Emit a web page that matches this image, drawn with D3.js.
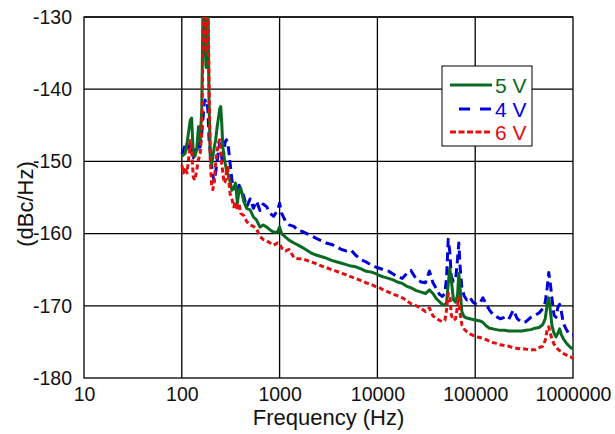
<!DOCTYPE html>
<html>
<head>
<meta charset="utf-8">
<script src="https://cdn.jsdelivr.net/npm/d3@7"></script>
<style>
  body { margin: 0; background: #fff; }
  text { font-family: "Liberation Sans", Arial, sans-serif; }
</style>
</head>
<body>
<div id="chart"></div>
<script>
// frequency grid (Hz) shared by the three curves
const freqHz = [
  100, 104, 108, 113, 118, 122, 126, 131, 136, 142, 148, 154, 160, 165, 169, 173, 177, 181, 185, 190,
  196, 202, 208, 215, 222, 230, 238, 244, 250, 256, 263, 270, 278, 286, 294, 302, 312, 325, 340, 355,
  370, 385, 400,
  430, 460, 500, 540, 580, 630, 680, 740, 800, 870,
  950, 1000, 1050, 1150, 1250, 1400, 1550, 1700, 1900, 2100,
  2400, 2700, 3000, 3400, 3800, 4300, 4800, 5400, 6000, 6800,
  7600, 8500, 9500, 10500, 11500, 13000, 14500, 16000, 18000, 20000,
  22000, 25000, 28000, 31000, 34000, 37000, 40000, 43000, 46000, 49000,
  51000, 53000, 55000, 57000, 60000, 63000, 66000, 68000, 70000, 73000,
  77000, 82000, 88000, 95000, 103000, 112000, 120000, 130000, 140000, 152000,
  165000, 180000, 200000, 220000, 245000, 270000, 300000, 330000, 370000, 410000,
  450000, 490000, 520000, 545000, 565000, 585000, 610000, 640000, 670000, 700000,
  730000, 760000, 800000, 850000, 900000, 950000, 1000000
];

// 5 V (dBc/Hz)
const db5V = [
  -149.3, -149.1, -148.9, -147.5, -145.7, -144.3, -144.0, -148.8, -149.3, -148.4, -145.2, -147.0, -142.9, -128, -126, -134, -137, -126, -128, -142,
  -149.8, -150.5, -149.3, -148, -147, -145.2, -143.8, -142.7, -142.4, -144.7, -148, -149.3, -150.3, -151.2, -151.6, -152.1, -152.8, -154, -153.7, -153,
  -155.8, -154, -153.7,
  -155.5, -156.5, -156.7, -157.7, -158.1, -159.1, -158.8, -159.1, -159.5, -159.8,
  -159.8, -159.1, -160.0, -160.5, -160.9, -161.3, -161.6, -161.9, -162.3, -162.7,
  -163.0, -163.2, -163.4, -163.7, -163.9, -164.1, -164.3, -164.5, -164.6, -164.9,
  -165.2, -165.3, -165.5, -165.8, -166.0, -166.2, -166.4, -166.7, -166.9, -167.3,
  -167.5, -167.9, -168.1, -168.3, -167.8, -168.3, -169.0, -169.4, -169.8, -169.9,
  -169.5, -167.0, -164.8, -166.5, -169.2, -169.5, -168.5, -165.5, -167.5, -170.8,
  -171.5, -171.7, -171.8, -171.9, -172.0, -172.1, -172.3, -172.8, -173.1, -173.2,
  -173.3, -173.4, -173.4, -173.5, -173.5, -173.5, -173.5, -173.4, -173.3, -173.1,
  -173.0, -172.6, -171.8, -169.8, -168.9, -170.5, -172.8, -173.8, -174.3, -173.8,
  -173.2, -174.0, -174.6, -175.1, -175.5, -175.8, -176.0
];

// 4 V (dBc/Hz)
const db4V = [
  -149.0, -148.5, -147.8, -147.6, -148.3, -147.2, -148.8, -149.5, -148.4, -148.8, -147.2, -148, -146, -144, -142, -141.5, -142, -141.8, -143, -147,
  -148.8, -150.5, -152, -152.8, -151.5, -150, -148.4, -147.5, -148.2, -149.5, -150.3, -148.5, -147.3, -147.0, -147.4, -148.5, -150.3, -152.5, -153.8, -153.6,
  -154.5, -153.3, -153.8,
  -154.8, -156.3, -155.2, -156.5, -155.5, -156.8, -155.9, -156.3, -157.2, -157.6,
  -156.8, -155.8, -157.2, -158.3, -158.8, -159.0, -159.6, -159.7, -160.0, -160.3,
  -160.7, -161.0, -161.3, -161.5, -161.8, -162.2, -162.4, -162.3, -163.0, -163.6,
  -163.9, -164.3, -164.6, -164.8, -165.0, -165.2, -165.6, -166.0, -166.2, -165.5,
  -165.1, -166.3, -166.7, -166.8, -165.2, -166.8, -167.6, -168.4, -168.7, -168.3,
  -166.0, -160.8, -162.5, -166.0, -166.6, -166.5, -163.5, -161.3, -164.5, -167.5,
  -168.6, -169.2, -168.8, -169.5, -169.8, -169.6, -168.9, -169.8, -170.6, -171.2,
  -171.5, -171.8, -171.6, -171.9, -170.6, -171.8, -172.3, -172.2, -171.6, -171.3,
  -171.0, -170.4, -169.5, -167.5, -165.4, -166.8, -169.0, -171.3, -171.6, -170.2,
  -169.8, -170.8, -172.5, -173.2, -173.8, -174.0, -174.0
];

// 6 V (dBc/Hz)
const db6V = [
  -150.5, -151.6, -150.8, -151.6, -149.4, -147.1, -148.4, -152.2, -152.6, -151.2, -149.8, -148.9, -146, -132, -126, -131, -135, -126, -127, -139,
  -150, -153.5, -153.9, -152.5, -150.3, -148.5, -147.3, -147.0, -148.3, -150.5, -151.5, -153, -152.8, -151.5, -150.8, -152.5, -154.5, -155.2, -156.3, -155.6,
  -156.8, -155.8, -157.2,
  -157.5, -158.3, -158.8, -159.0, -159.3, -160.4, -160.8, -161.0, -161.3, -161.6,
  -161.3, -161.4, -162.0, -162.4, -162.2, -163.3, -163.5, -163.5, -163.7, -163.9,
  -164.2, -164.5, -164.7, -165.0, -165.2, -165.5, -165.7, -166.0, -166.2, -166.5,
  -166.8, -167.0, -167.3, -167.5, -167.8, -168.1, -168.4, -168.6, -168.9, -169.3,
  -169.7, -170.0, -170.4, -170.8, -170.3, -171.4, -171.7, -172.0, -172.2, -172.0,
  -170.5, -168.3, -168.4, -171.3, -172.0, -171.8, -170.0, -168.8, -171.0, -172.6,
  -173.2, -173.6, -173.9, -174.1, -174.3, -174.4, -174.5, -174.7, -174.9, -175.1,
  -175.2, -175.4, -175.5, -175.6, -175.8, -175.9, -176.0, -176.0, -176.1, -176.1,
  -175.8, -175.6, -174.8, -173.3, -172.9, -173.8, -174.6, -175.3, -175.7, -176.0,
  -176.2, -176.4, -176.6, -176.8, -177.0, -177.1, -177.3
];

const xTicks = [10, 100, 1000, 10000, 100000, 1000000];
const yTicks = [-180, -170, -160, -150, -140, -130];

const width = 615, height = 434;
const plotL = 84, plotR = 573, plotT = 17, plotB = 378;

const svg = d3.select("#chart").append("svg")
  .attr("width", width)
  .attr("height", height);

const x = d3.scaleLog().domain([10, 1000000]).range([plotL, plotR]);
const y = d3.scaleLinear().domain([-180, -130]).range([plotB, plotT]);

// grid
const grid = svg.append("g").attr("stroke", "#000").attr("stroke-width", 1.3);
grid.selectAll(".vg").data(xTicks.slice(1, -1)).enter().append("line")
  .attr("x1", d => x(d)).attr("x2", d => x(d))
  .attr("y1", plotT).attr("y2", plotB);
grid.selectAll(".hg").data(yTicks.slice(1, -1)).enter().append("line")
  .attr("x1", plotL).attr("x2", plotR)
  .attr("y1", d => y(d)).attr("y2", d => y(d));

svg.append("rect")
  .attr("x", plotL).attr("y", plotT)
  .attr("width", plotR - plotL).attr("height", plotB - plotT)
  .attr("fill", "none").attr("stroke", "#000").attr("stroke-width", 1.3);
svg.append("line")
  .attr("x1", plotL).attr("x2", plotR).attr("y1", plotT).attr("y2", plotT)
  .attr("stroke", "#222").attr("stroke-width", 2.2);

// curves
svg.append("clipPath").attr("id", "clip")
  .append("rect").attr("x", plotL).attr("y", plotT)
  .attr("width", plotR - plotL).attr("height", plotB - plotT);

const line = d3.line().x(d => x(d[0])).y(d => y(d[1]));

const series = [
  { name: "4 V", values: db4V, color: "#0000dc", dash: "9,5" },
  { name: "5 V", values: db5V, color: "#0b6a22", dash: null },
  { name: "6 V", values: db6V, color: "#e30e0e", dash: "5,3" }
];

const plot = svg.append("g").attr("clip-path", "url(#clip)");
series.forEach(function (s) {
  plot.append("path")
    .datum(freqHz.map((f, i) => [f, s.values[i]]))
    .attr("d", line)
    .attr("fill", "none")
    .attr("stroke", s.color)
    .attr("stroke-width", 3)
    .attr("stroke-linejoin", "round")
    .attr("stroke-dasharray", s.dash);
});

// axes labels
const yAxis = svg.append("g")
  .attr("transform", "translate(" + plotL + ",0)")
  .call(d3.axisLeft(y).tickValues(yTicks).tickSize(0).tickPadding(12).tickFormat(d => String(d)));
yAxis.select(".domain").remove();
yAxis.selectAll("text").attr("font-size", "19.5px").attr("fill", "#111")
  .attr("font-family", "'Liberation Sans', Arial, sans-serif");

const xAxis = svg.append("g")
  .attr("transform", "translate(0," + plotB + ")")
  .call(d3.axisBottom(x).tickValues(xTicks).tickSize(0).tickPadding(9).tickFormat(d => String(d)));
xAxis.select(".domain").remove();
xAxis.selectAll("text").attr("font-size", "19.5px").attr("fill", "#111")
  .attr("font-family", "'Liberation Sans', Arial, sans-serif");

svg.append("text")
  .attr("x", (plotL + plotR) / 2)
  .attr("y", 425)
  .attr("text-anchor", "middle")
  .style("font-size", "22px")
  .style("fill", "#111")
  .text("Frequency (Hz)");

svg.append("text")
  .attr("transform", "translate(33,204) rotate(-90)")
  .attr("text-anchor", "middle")
  .style("font-size", "22px")
  .style("fill", "#111")
  .text("(dBc/Hz)");

// legend
const legend = svg.append("g");
legend.append("rect")
  .attr("x", 442).attr("y", 66).attr("width", 90).attr("height", 80)
  .attr("fill", "#fff").attr("stroke", "#000").attr("stroke-width", 1);

const legendItems = [
  { s: series[1], x1: 450, yy: 85, dash: null },
  { s: series[0], x1: 459, yy: 109, dash: "11,10" },
  { s: series[2], x1: 450, yy: 132, dash: "6,2.5" }
];
legendItems.forEach(function (it) {
  legend.append("line")
    .attr("x1", it.x1).attr("x2", 492)
    .attr("y1", it.yy).attr("y2", it.yy)
    .attr("stroke", it.s.color).attr("stroke-width", 3)
    .attr("stroke-dasharray", it.dash);
  legend.append("text")
    .attr("x", 495).attr("y", it.yy + 8)
    .style("font-size", "21px")
    .style("fill", it.s.color)
    .text(it.s.name);
});
</script>
</body>
</html>
